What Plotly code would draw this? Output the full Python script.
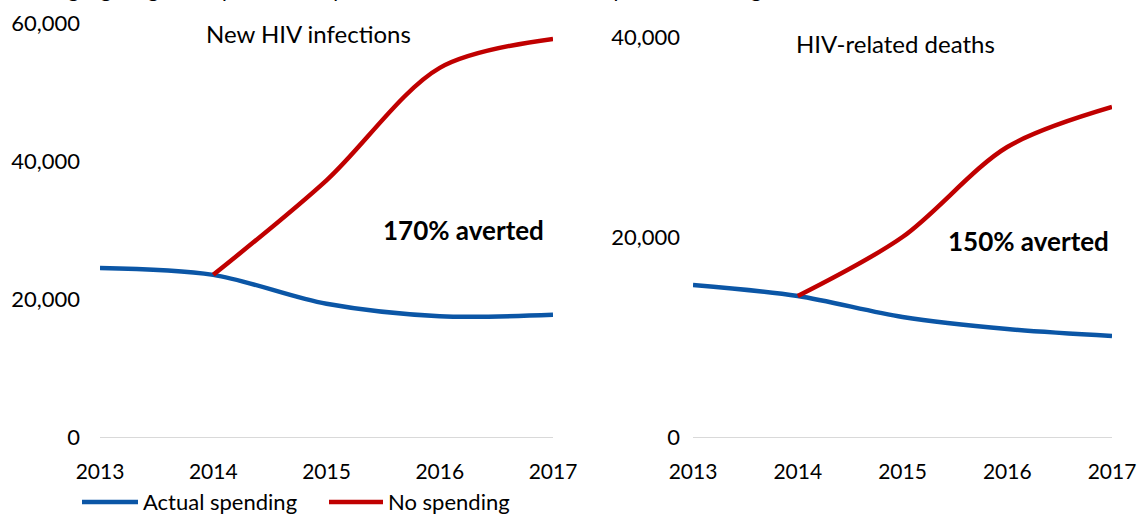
import plotly.graph_objects as go

years = [2013, 2014, 2015, 2016, 2017]
years_no = [2014, 2015, 2016, 2017]

inf_actual = [24500, 23500, 19300, 17500, 17700]
inf_none = [23500, 37200, 53500, 57700]

death_actual = [15200, 14100, 12000, 10800, 10100]
death_none = [14100, 20000, 29000, 33000]

left_ticks = [0, 20000, 40000, 60000]
right_ticks = [0, 20000, 40000]

series_names = ["Actual spending", "No spending"]

BLUE = "#0B56A6"
RED = "#C00000"
FONT = "Lato"
W, H = 1138, 514

def px_x(p):
    return p / W

def px_y(p):
    return 1 - p / H

LW = 4.5
SM = 0.9
fig = go.Figure()

fig.add_trace(go.Scatter(x=years, y=inf_actual, mode="lines", name=series_names[0],
                         line=dict(color=BLUE, width=LW, shape="spline", smoothing=SM),
                         xaxis="x", yaxis="y", showlegend=False))
fig.add_trace(go.Scatter(x=years_no, y=inf_none, mode="lines", name=series_names[1],
                         line=dict(color=RED, width=LW, shape="spline", smoothing=SM),
                         xaxis="x", yaxis="y", showlegend=False))
fig.add_trace(go.Scatter(x=years, y=death_actual, mode="lines", name=series_names[0],
                         line=dict(color=BLUE, width=LW, shape="spline", smoothing=SM),
                         xaxis="x2", yaxis="y2", showlegend=False))
fig.add_trace(go.Scatter(x=years_no, y=death_none, mode="lines", name=series_names[1],
                         line=dict(color=RED, width=LW, shape="spline", smoothing=SM),
                         xaxis="x2", yaxis="y2", showlegend=False))

tickfont = dict(family=FONT, size=21, color="#000000")
ytickfont = dict(family=FONT, size=22, color="#000000")

common_x = dict(range=[2013, 2017], tickmode="array", tickvals=years,
                ticktext=[str(y) for y in years], showgrid=False, zeroline=False,
                showline=True, linecolor="#D9D9D9", linewidth=1, ticks="",
                tickfont=tickfont, ticklabelstandoff=16, fixedrange=True,
                automargin=False)

y0 = px_y(437)
fig.update_layout(
    width=W, height=H,
    margin=dict(l=0, r=0, t=0, b=0, autoexpand=False),
    paper_bgcolor="white", plot_bgcolor="white",
    font=dict(family=FONT, color="#000000"),
    xaxis=dict(domain=[px_x(100), px_x(553)], anchor="y", **common_x),
    xaxis2=dict(domain=[px_x(693), px_x(1112)], anchor="y2", **common_x),
    yaxis=dict(domain=[y0, px_y(23)], range=[0, 60000], anchor="x",
               tickvals=left_ticks, ticktext=[f"{v:,}" for v in left_ticks],
               showgrid=False, zeroline=False, showline=False, ticks="",
               tickfont=ytickfont, ticklabelstandoff=19, fixedrange=True,
               automargin=False),
    yaxis2=dict(domain=[y0, px_y(37)], range=[0, 40000], anchor="x2",
                tickvals=right_ticks, ticktext=[f"{v:,}" for v in right_ticks],
                showgrid=False, zeroline=False, showline=False, ticks="",
                tickfont=ytickfont, ticklabelstandoff=12, fixedrange=True,
                automargin=False),
    showlegend=False,
)

ann = [
    dict(text="Highlighting the importance of public resources in the HIV response in the region",
         x=px_x(45), y=px_y(3), xanchor="left", yanchor="bottom", showarrow=False,
         font=dict(family=FONT, size=21, color="#000000")),
    dict(text="New HIV infections", x=px_x(308), y=px_y(34), xanchor="center", yanchor="middle",
         showarrow=False, font=dict(family=FONT, size=24)),
    dict(text="HIV-related deaths", x=px_x(895), y=px_y(43), xanchor="center", yanchor="middle",
         showarrow=False, font=dict(family=FONT, size=24)),
    dict(text="<b>170% averted</b>", x=px_x(463), y=px_y(230), xanchor="center", yanchor="middle",
         showarrow=False, font=dict(family=FONT, size=26)),
    dict(text="<b>150% averted</b>", x=px_x(1028), y=px_y(241), xanchor="center", yanchor="middle",
         showarrow=False, font=dict(family=FONT, size=26)),
]

# custom legend (swatch lines + labels)
legend_items = [(series_names[0], BLUE, 82, 138), (series_names[1], RED, 329, 383)]
shapes = []
for name, col, xs, xe in legend_items:
    shapes.append(dict(type="line", xref="paper", yref="paper",
                       x0=px_x(xs), x1=px_x(xe), y0=px_y(502), y1=px_y(502),
                       line=dict(color=col, width=LW)))
    ann.append(dict(text=name, x=px_x(xe + 3), y=px_y(501), xanchor="left", yanchor="middle",
                    showarrow=False, font=dict(family=FONT, size=22)))

for a in ann:
    a["xref"] = "paper"
    a["yref"] = "paper"
fig.update_layout(annotations=ann, shapes=shapes)

fig.write_html("out.html", config={"displayModeBar": False},
               post_script="document.body.style.margin='0';document.body.style.overflow='hidden';")
